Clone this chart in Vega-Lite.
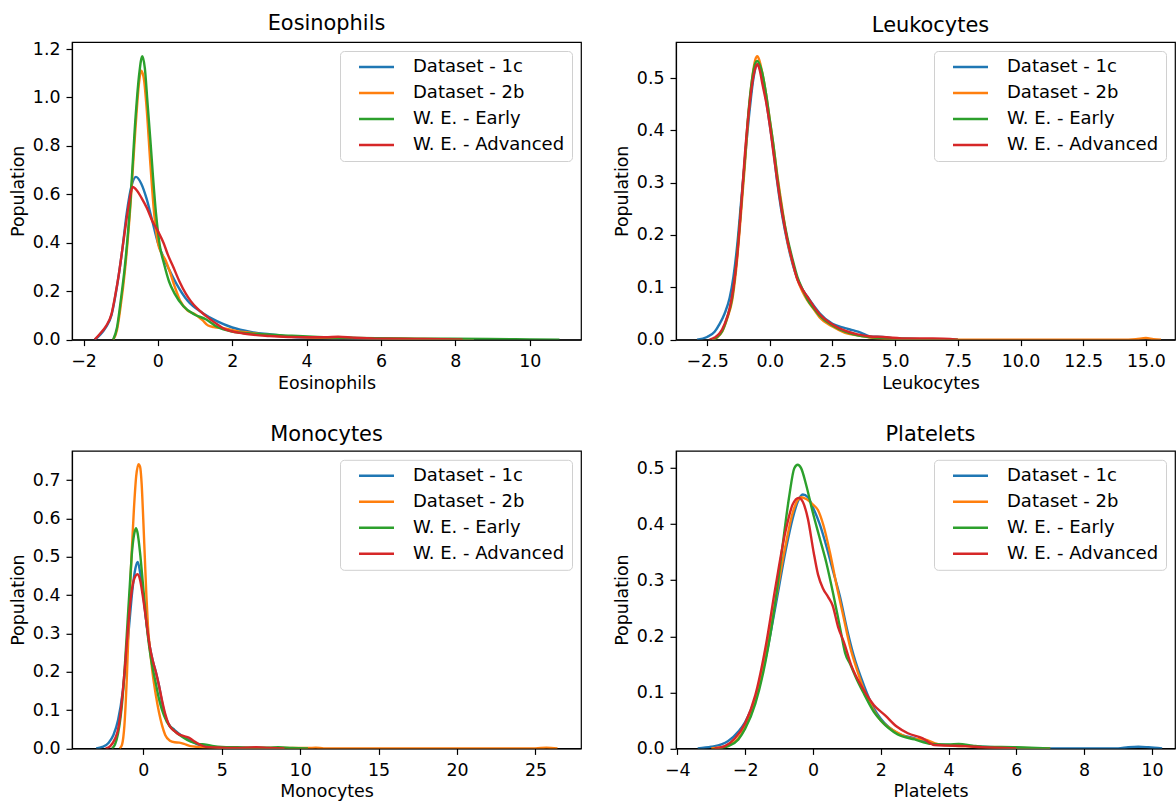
{
"$schema": "https://vega.github.io/schema/vega-lite/v6.json",
"padding": {"left": 8, "top": 12, "right": 0, "bottom": 0},
"columns": 2,
"spacing": {"row": 110.8, "column": 95},
"bounds": "flush",
"resolve": {"scale": {"x": "independent", "y": "independent", "color": "independent"}, "legend": {"color": "independent"}},
"datasets": {
"eos": [
{"s":"Dataset - 1c","x":-1.7,"y":0},{"s":"Dataset - 1c","x":-1.55,"y":0.02},{"s":"Dataset - 1c","x":-1.4,"y":0.05},{"s":"Dataset - 1c","x":-1.25,"y":0.1},{"s":"Dataset - 1c","x":-1.1,"y":0.22},{"s":"Dataset - 1c","x":-0.95,"y":0.38},{"s":"Dataset - 1c","x":-0.84,"y":0.52},{"s":"Dataset - 1c","x":-0.7,"y":0.64},{"s":"Dataset - 1c","x":-0.59,"y":0.672},{"s":"Dataset - 1c","x":-0.45,"y":0.645},{"s":"Dataset - 1c","x":-0.3,"y":0.58},{"s":"Dataset - 1c","x":-0.15,"y":0.49},{"s":"Dataset - 1c","x":0,"y":0.4},{"s":"Dataset - 1c","x":0.15,"y":0.34},{"s":"Dataset - 1c","x":0.3,"y":0.29},{"s":"Dataset - 1c","x":0.5,"y":0.23},{"s":"Dataset - 1c","x":0.8,"y":0.16},{"s":"Dataset - 1c","x":1.2,"y":0.11},{"s":"Dataset - 1c","x":1.6,"y":0.075},{"s":"Dataset - 1c","x":2.0,"y":0.05},{"s":"Dataset - 1c","x":2.5,"y":0.032},{"s":"Dataset - 1c","x":3.0,"y":0.022},{"s":"Dataset - 1c","x":3.5,"y":0.013},{"s":"Dataset - 1c","x":4.0,"y":0.008},{"s":"Dataset - 1c","x":5.0,"y":0.005},{"s":"Dataset - 1c","x":6.0,"y":0.003},{"s":"Dataset - 1c","x":7.0,"y":0.002},{"s":"Dataset - 1c","x":8.5,"y":0},
{"s":"Dataset - 2b","x":-1.2,"y":0},{"s":"Dataset - 2b","x":-1.1,"y":0.04},{"s":"Dataset - 2b","x":-1.0,"y":0.14},{"s":"Dataset - 2b","x":-0.89,"y":0.28},{"s":"Dataset - 2b","x":-0.74,"y":0.55},{"s":"Dataset - 2b","x":-0.6,"y":0.88},{"s":"Dataset - 2b","x":-0.5,"y":1.07},{"s":"Dataset - 2b","x":-0.45,"y":1.11},{"s":"Dataset - 2b","x":-0.38,"y":1.08},{"s":"Dataset - 2b","x":-0.3,"y":0.95},{"s":"Dataset - 2b","x":-0.2,"y":0.72},{"s":"Dataset - 2b","x":-0.1,"y":0.52},{"s":"Dataset - 2b","x":0,"y":0.4},{"s":"Dataset - 2b","x":0.1,"y":0.355},{"s":"Dataset - 2b","x":0.2,"y":0.33},{"s":"Dataset - 2b","x":0.3,"y":0.29},{"s":"Dataset - 2b","x":0.45,"y":0.22},{"s":"Dataset - 2b","x":0.6,"y":0.16},{"s":"Dataset - 2b","x":0.8,"y":0.12},{"s":"Dataset - 2b","x":1.0,"y":0.105},{"s":"Dataset - 2b","x":1.2,"y":0.08},{"s":"Dataset - 2b","x":1.35,"y":0.058},{"s":"Dataset - 2b","x":1.5,"y":0.052},{"s":"Dataset - 2b","x":1.8,"y":0.046},{"s":"Dataset - 2b","x":2.1,"y":0.036},{"s":"Dataset - 2b","x":2.5,"y":0.028},{"s":"Dataset - 2b","x":3.0,"y":0.018},{"s":"Dataset - 2b","x":4.0,"y":0.01},{"s":"Dataset - 2b","x":5.0,"y":0.006},{"s":"Dataset - 2b","x":6.0,"y":0.004},{"s":"Dataset - 2b","x":7.0,"y":0.003},{"s":"Dataset - 2b","x":8.0,"y":0.002},{"s":"Dataset - 2b","x":8.5,"y":0},
{"s":"W. E. - Early","x":-1.2,"y":0},{"s":"W. E. - Early","x":-1.1,"y":0.05},{"s":"W. E. - Early","x":-1.0,"y":0.16},{"s":"W. E. - Early","x":-0.89,"y":0.3},{"s":"W. E. - Early","x":-0.74,"y":0.57},{"s":"W. E. - Early","x":-0.6,"y":0.92},{"s":"W. E. - Early","x":-0.5,"y":1.1},{"s":"W. E. - Early","x":-0.42,"y":1.17},{"s":"W. E. - Early","x":-0.35,"y":1.12},{"s":"W. E. - Early","x":-0.28,"y":0.98},{"s":"W. E. - Early","x":-0.2,"y":0.82},{"s":"W. E. - Early","x":-0.13,"y":0.67},{"s":"W. E. - Early","x":-0.05,"y":0.52},{"s":"W. E. - Early","x":0.05,"y":0.39},{"s":"W. E. - Early","x":0.17,"y":0.31},{"s":"W. E. - Early","x":0.3,"y":0.24},{"s":"W. E. - Early","x":0.45,"y":0.19},{"s":"W. E. - Early","x":0.68,"y":0.139},{"s":"W. E. - Early","x":0.98,"y":0.104},{"s":"W. E. - Early","x":1.29,"y":0.084},{"s":"W. E. - Early","x":1.6,"y":0.052},{"s":"W. E. - Early","x":2.0,"y":0.033},{"s":"W. E. - Early","x":2.4,"y":0.026},{"s":"W. E. - Early","x":2.8,"y":0.022},{"s":"W. E. - Early","x":3.6,"y":0.016},{"s":"W. E. - Early","x":4.3,"y":0.011},{"s":"W. E. - Early","x":5.35,"y":0.007},{"s":"W. E. - Early","x":6.9,"y":0.004},{"s":"W. E. - Early","x":8.9,"y":0.003},{"s":"W. E. - Early","x":10.0,"y":0.001},{"s":"W. E. - Early","x":10.8,"y":0},
{"s":"W. E. - Advanced","x":-1.7,"y":0},{"s":"W. E. - Advanced","x":-1.55,"y":0.025},{"s":"W. E. - Advanced","x":-1.4,"y":0.055},{"s":"W. E. - Advanced","x":-1.25,"y":0.104},{"s":"W. E. - Advanced","x":-1.15,"y":0.18},{"s":"W. E. - Advanced","x":-1.05,"y":0.27},{"s":"W. E. - Advanced","x":-0.95,"y":0.38},{"s":"W. E. - Advanced","x":-0.84,"y":0.5},{"s":"W. E. - Advanced","x":-0.76,"y":0.58},{"s":"W. E. - Advanced","x":-0.68,"y":0.63},{"s":"W. E. - Advanced","x":-0.56,"y":0.615},{"s":"W. E. - Advanced","x":-0.44,"y":0.585},{"s":"W. E. - Advanced","x":-0.3,"y":0.545},{"s":"W. E. - Advanced","x":-0.15,"y":0.49},{"s":"W. E. - Advanced","x":0,"y":0.448},{"s":"W. E. - Advanced","x":0.15,"y":0.4},{"s":"W. E. - Advanced","x":0.27,"y":0.35},{"s":"W. E. - Advanced","x":0.4,"y":0.305},{"s":"W. E. - Advanced","x":0.58,"y":0.24},{"s":"W. E. - Advanced","x":0.75,"y":0.19},{"s":"W. E. - Advanced","x":0.88,"y":0.16},{"s":"W. E. - Advanced","x":1.05,"y":0.13},{"s":"W. E. - Advanced","x":1.29,"y":0.098},{"s":"W. E. - Advanced","x":1.55,"y":0.068},{"s":"W. E. - Advanced","x":1.8,"y":0.043},{"s":"W. E. - Advanced","x":2.3,"y":0.025},{"s":"W. E. - Advanced","x":3.0,"y":0.015},{"s":"W. E. - Advanced","x":4.0,"y":0.01},{"s":"W. E. - Advanced","x":4.5,"y":0.01},{"s":"W. E. - Advanced","x":4.85,"y":0.012},{"s":"W. E. - Advanced","x":5.25,"y":0.008},{"s":"W. E. - Advanced","x":5.86,"y":0.004},{"s":"W. E. - Advanced","x":6.9,"y":0.003},{"s":"W. E. - Advanced","x":8.0,"y":0.001},{"s":"W. E. - Advanced","x":8.2,"y":0}
],
"leu": [
{"s":"Dataset - 1c","x":-2.9,"y":0},{"s":"Dataset - 1c","x":-2.5,"y":0.005},{"s":"Dataset - 1c","x":-2.2,"y":0.015},{"s":"Dataset - 1c","x":-2.0,"y":0.03},{"s":"Dataset - 1c","x":-1.8,"y":0.05},{"s":"Dataset - 1c","x":-1.6,"y":0.08},{"s":"Dataset - 1c","x":-1.45,"y":0.12},{"s":"Dataset - 1c","x":-1.3,"y":0.18},{"s":"Dataset - 1c","x":-1.15,"y":0.26},{"s":"Dataset - 1c","x":-1.0,"y":0.34},{"s":"Dataset - 1c","x":-0.8,"y":0.44},{"s":"Dataset - 1c","x":-0.65,"y":0.5},{"s":"Dataset - 1c","x":-0.5,"y":0.525},{"s":"Dataset - 1c","x":-0.4,"y":0.52},{"s":"Dataset - 1c","x":-0.3,"y":0.5},{"s":"Dataset - 1c","x":-0.15,"y":0.46},{"s":"Dataset - 1c","x":0,"y":0.41},{"s":"Dataset - 1c","x":0.15,"y":0.36},{"s":"Dataset - 1c","x":0.3,"y":0.3},{"s":"Dataset - 1c","x":0.45,"y":0.25},{"s":"Dataset - 1c","x":0.6,"y":0.21},{"s":"Dataset - 1c","x":0.8,"y":0.165},{"s":"Dataset - 1c","x":1.0,"y":0.13},{"s":"Dataset - 1c","x":1.2,"y":0.105},{"s":"Dataset - 1c","x":1.5,"y":0.082},{"s":"Dataset - 1c","x":1.8,"y":0.062},{"s":"Dataset - 1c","x":2.0,"y":0.05},{"s":"Dataset - 1c","x":2.5,"y":0.03},{"s":"Dataset - 1c","x":3.0,"y":0.022},{"s":"Dataset - 1c","x":3.3,"y":0.018},{"s":"Dataset - 1c","x":3.6,"y":0.014},{"s":"Dataset - 1c","x":4.0,"y":0.006},{"s":"Dataset - 1c","x":4.5,"y":0.005},{"s":"Dataset - 1c","x":5.0,"y":0.002},{"s":"Dataset - 1c","x":6.0,"y":0.001},{"s":"Dataset - 1c","x":7.0,"y":0},
{"s":"Dataset - 2b","x":-2.3,"y":0},{"s":"Dataset - 2b","x":-2.1,"y":0.004},{"s":"Dataset - 2b","x":-1.9,"y":0.015},{"s":"Dataset - 2b","x":-1.7,"y":0.04},{"s":"Dataset - 2b","x":-1.5,"y":0.075},{"s":"Dataset - 2b","x":-1.35,"y":0.13},{"s":"Dataset - 2b","x":-1.2,"y":0.21},{"s":"Dataset - 2b","x":-1.0,"y":0.33},{"s":"Dataset - 2b","x":-0.85,"y":0.43},{"s":"Dataset - 2b","x":-0.7,"y":0.5},{"s":"Dataset - 2b","x":-0.58,"y":0.535},{"s":"Dataset - 2b","x":-0.5,"y":0.542},{"s":"Dataset - 2b","x":-0.42,"y":0.535},{"s":"Dataset - 2b","x":-0.3,"y":0.51},{"s":"Dataset - 2b","x":-0.15,"y":0.47},{"s":"Dataset - 2b","x":0,"y":0.42},{"s":"Dataset - 2b","x":0.15,"y":0.37},{"s":"Dataset - 2b","x":0.3,"y":0.315},{"s":"Dataset - 2b","x":0.5,"y":0.25},{"s":"Dataset - 2b","x":0.7,"y":0.19},{"s":"Dataset - 2b","x":0.9,"y":0.15},{"s":"Dataset - 2b","x":1.1,"y":0.115},{"s":"Dataset - 2b","x":1.3,"y":0.092},{"s":"Dataset - 2b","x":1.5,"y":0.075},{"s":"Dataset - 2b","x":1.8,"y":0.055},{"s":"Dataset - 2b","x":2.0,"y":0.042},{"s":"Dataset - 2b","x":2.5,"y":0.025},{"s":"Dataset - 2b","x":3.0,"y":0.013},{"s":"Dataset - 2b","x":3.5,"y":0.008},{"s":"Dataset - 2b","x":4.0,"y":0.004},{"s":"Dataset - 2b","x":5.0,"y":0.001},{"s":"Dataset - 2b","x":6.0,"y":0.001},{"s":"Dataset - 2b","x":7.0,"y":0},{"s":"Dataset - 2b","x":14.0,"y":0},{"s":"Dataset - 2b","x":14.6,"y":0.001},{"s":"Dataset - 2b","x":15.0,"y":0.003},{"s":"Dataset - 2b","x":15.3,"y":0.001},{"s":"Dataset - 2b","x":15.6,"y":0},
{"s":"W. E. - Early","x":-2.3,"y":0},{"s":"W. E. - Early","x":-2.1,"y":0.005},{"s":"W. E. - Early","x":-1.9,"y":0.016},{"s":"W. E. - Early","x":-1.7,"y":0.042},{"s":"W. E. - Early","x":-1.5,"y":0.08},{"s":"W. E. - Early","x":-1.35,"y":0.14},{"s":"W. E. - Early","x":-1.2,"y":0.22},{"s":"W. E. - Early","x":-1.0,"y":0.34},{"s":"W. E. - Early","x":-0.85,"y":0.435},{"s":"W. E. - Early","x":-0.7,"y":0.5},{"s":"W. E. - Early","x":-0.58,"y":0.528},{"s":"W. E. - Early","x":-0.5,"y":0.533},{"s":"W. E. - Early","x":-0.42,"y":0.528},{"s":"W. E. - Early","x":-0.3,"y":0.51},{"s":"W. E. - Early","x":-0.15,"y":0.47},{"s":"W. E. - Early","x":0,"y":0.42},{"s":"W. E. - Early","x":0.15,"y":0.37},{"s":"W. E. - Early","x":0.3,"y":0.31},{"s":"W. E. - Early","x":0.5,"y":0.245},{"s":"W. E. - Early","x":0.7,"y":0.195},{"s":"W. E. - Early","x":0.9,"y":0.155},{"s":"W. E. - Early","x":1.1,"y":0.12},{"s":"W. E. - Early","x":1.3,"y":0.097},{"s":"W. E. - Early","x":1.5,"y":0.077},{"s":"W. E. - Early","x":1.8,"y":0.057},{"s":"W. E. - Early","x":2.0,"y":0.045},{"s":"W. E. - Early","x":2.5,"y":0.027},{"s":"W. E. - Early","x":3.0,"y":0.015},{"s":"W. E. - Early","x":3.5,"y":0.008},{"s":"W. E. - Early","x":4.0,"y":0.005},{"s":"W. E. - Early","x":5.0,"y":0.002},{"s":"W. E. - Early","x":6.0,"y":0.001},{"s":"W. E. - Early","x":7.5,"y":0},
{"s":"W. E. - Advanced","x":-2.4,"y":0},{"s":"W. E. - Advanced","x":-2.2,"y":0.004},{"s":"W. E. - Advanced","x":-2.0,"y":0.012},{"s":"W. E. - Advanced","x":-1.8,"y":0.03},{"s":"W. E. - Advanced","x":-1.6,"y":0.06},{"s":"W. E. - Advanced","x":-1.45,"y":0.1},{"s":"W. E. - Advanced","x":-1.3,"y":0.16},{"s":"W. E. - Advanced","x":-1.15,"y":0.25},{"s":"W. E. - Advanced","x":-1.0,"y":0.35},{"s":"W. E. - Advanced","x":-0.85,"y":0.43},{"s":"W. E. - Advanced","x":-0.7,"y":0.49},{"s":"W. E. - Advanced","x":-0.6,"y":0.515},{"s":"W. E. - Advanced","x":-0.5,"y":0.527},{"s":"W. E. - Advanced","x":-0.4,"y":0.515},{"s":"W. E. - Advanced","x":-0.3,"y":0.49},{"s":"W. E. - Advanced","x":-0.15,"y":0.455},{"s":"W. E. - Advanced","x":0,"y":0.41},{"s":"W. E. - Advanced","x":0.15,"y":0.355},{"s":"W. E. - Advanced","x":0.3,"y":0.303},{"s":"W. E. - Advanced","x":0.5,"y":0.24},{"s":"W. E. - Advanced","x":0.7,"y":0.19},{"s":"W. E. - Advanced","x":0.9,"y":0.15},{"s":"W. E. - Advanced","x":1.1,"y":0.115},{"s":"W. E. - Advanced","x":1.3,"y":0.096},{"s":"W. E. - Advanced","x":1.5,"y":0.082},{"s":"W. E. - Advanced","x":1.8,"y":0.06},{"s":"W. E. - Advanced","x":2.0,"y":0.048},{"s":"W. E. - Advanced","x":2.5,"y":0.029},{"s":"W. E. - Advanced","x":3.0,"y":0.017},{"s":"W. E. - Advanced","x":3.5,"y":0.01},{"s":"W. E. - Advanced","x":4.0,"y":0.006},{"s":"W. E. - Advanced","x":4.5,"y":0.005},{"s":"W. E. - Advanced","x":5.5,"y":0.002},{"s":"W. E. - Advanced","x":6.5,"y":0.002},{"s":"W. E. - Advanced","x":7.5,"y":0}
],
"mon": [
{"s":"Dataset - 1c","x":-3.0,"y":0},{"s":"Dataset - 1c","x":-2.6,"y":0.004},{"s":"Dataset - 1c","x":-2.2,"y":0.015},{"s":"Dataset - 1c","x":-1.9,"y":0.035},{"s":"Dataset - 1c","x":-1.6,"y":0.075},{"s":"Dataset - 1c","x":-1.3,"y":0.15},{"s":"Dataset - 1c","x":-1.1,"y":0.23},{"s":"Dataset - 1c","x":-0.9,"y":0.32},{"s":"Dataset - 1c","x":-0.7,"y":0.41},{"s":"Dataset - 1c","x":-0.5,"y":0.47},{"s":"Dataset - 1c","x":-0.35,"y":0.487},{"s":"Dataset - 1c","x":-0.2,"y":0.46},{"s":"Dataset - 1c","x":0,"y":0.4},{"s":"Dataset - 1c","x":0.2,"y":0.33},{"s":"Dataset - 1c","x":0.4,"y":0.27},{"s":"Dataset - 1c","x":0.6,"y":0.23},{"s":"Dataset - 1c","x":0.8,"y":0.2},{"s":"Dataset - 1c","x":1.0,"y":0.165},{"s":"Dataset - 1c","x":1.2,"y":0.12},{"s":"Dataset - 1c","x":1.4,"y":0.085},{"s":"Dataset - 1c","x":1.6,"y":0.065},{"s":"Dataset - 1c","x":2.0,"y":0.048},{"s":"Dataset - 1c","x":2.5,"y":0.032},{"s":"Dataset - 1c","x":3.0,"y":0.02},{"s":"Dataset - 1c","x":3.5,"y":0.01},{"s":"Dataset - 1c","x":4.0,"y":0.005},{"s":"Dataset - 1c","x":5.0,"y":0.002},{"s":"Dataset - 1c","x":6.0,"y":0.001},{"s":"Dataset - 1c","x":7.0,"y":0.001},{"s":"Dataset - 1c","x":9.0,"y":0},
{"s":"Dataset - 2b","x":-1.5,"y":0},{"s":"Dataset - 2b","x":-1.35,"y":0.01},{"s":"Dataset - 2b","x":-1.2,"y":0.06},{"s":"Dataset - 2b","x":-1.05,"y":0.18},{"s":"Dataset - 2b","x":-0.9,"y":0.35},{"s":"Dataset - 2b","x":-0.75,"y":0.5},{"s":"Dataset - 2b","x":-0.6,"y":0.62},{"s":"Dataset - 2b","x":-0.45,"y":0.71},{"s":"Dataset - 2b","x":-0.3,"y":0.742},{"s":"Dataset - 2b","x":-0.2,"y":0.735},{"s":"Dataset - 2b","x":-0.1,"y":0.69},{"s":"Dataset - 2b","x":0,"y":0.6},{"s":"Dataset - 2b","x":0.1,"y":0.5},{"s":"Dataset - 2b","x":0.2,"y":0.4},{"s":"Dataset - 2b","x":0.3,"y":0.32},{"s":"Dataset - 2b","x":0.45,"y":0.25},{"s":"Dataset - 2b","x":0.6,"y":0.195},{"s":"Dataset - 2b","x":0.8,"y":0.14},{"s":"Dataset - 2b","x":1.0,"y":0.095},{"s":"Dataset - 2b","x":1.2,"y":0.06},{"s":"Dataset - 2b","x":1.4,"y":0.035},{"s":"Dataset - 2b","x":1.7,"y":0.02},{"s":"Dataset - 2b","x":2.0,"y":0.016},{"s":"Dataset - 2b","x":2.3,"y":0.015},{"s":"Dataset - 2b","x":2.6,"y":0.012},{"s":"Dataset - 2b","x":3.0,"y":0.006},{"s":"Dataset - 2b","x":3.5,"y":0.004},{"s":"Dataset - 2b","x":4.5,"y":0.002},{"s":"Dataset - 2b","x":6.0,"y":0.001},{"s":"Dataset - 2b","x":8.0,"y":0.001},{"s":"Dataset - 2b","x":10.5,"y":0.001},{"s":"Dataset - 2b","x":11.0,"y":0.002},{"s":"Dataset - 2b","x":11.5,"y":0},{"s":"Dataset - 2b","x":25.0,"y":0},{"s":"Dataset - 2b","x":25.7,"y":0.002},{"s":"Dataset - 2b","x":26.4,"y":0},
{"s":"W. E. - Early","x":-2.0,"y":0},{"s":"W. E. - Early","x":-1.8,"y":0.01},{"s":"W. E. - Early","x":-1.6,"y":0.04},{"s":"W. E. - Early","x":-1.45,"y":0.08},{"s":"W. E. - Early","x":-1.3,"y":0.14},{"s":"W. E. - Early","x":-1.15,"y":0.23},{"s":"W. E. - Early","x":-1.0,"y":0.33},{"s":"W. E. - Early","x":-0.85,"y":0.43},{"s":"W. E. - Early","x":-0.7,"y":0.52},{"s":"W. E. - Early","x":-0.55,"y":0.565},{"s":"W. E. - Early","x":-0.45,"y":0.575},{"s":"W. E. - Early","x":-0.35,"y":0.56},{"s":"W. E. - Early","x":-0.2,"y":0.51},{"s":"W. E. - Early","x":0,"y":0.42},{"s":"W. E. - Early","x":0.2,"y":0.33},{"s":"W. E. - Early","x":0.4,"y":0.26},{"s":"W. E. - Early","x":0.6,"y":0.21},{"s":"W. E. - Early","x":0.8,"y":0.17},{"s":"W. E. - Early","x":1.0,"y":0.13},{"s":"W. E. - Early","x":1.2,"y":0.1},{"s":"W. E. - Early","x":1.5,"y":0.07},{"s":"W. E. - Early","x":2.0,"y":0.045},{"s":"W. E. - Early","x":2.5,"y":0.03},{"s":"W. E. - Early","x":3.0,"y":0.018},{"s":"W. E. - Early","x":3.5,"y":0.012},{"s":"W. E. - Early","x":4.0,"y":0.01},{"s":"W. E. - Early","x":4.5,"y":0.006},{"s":"W. E. - Early","x":5.0,"y":0.004},{"s":"W. E. - Early","x":6.0,"y":0.003},{"s":"W. E. - Early","x":7.0,"y":0.002},{"s":"W. E. - Early","x":8.0,"y":0.002},{"s":"W. E. - Early","x":8.6,"y":0.003},{"s":"W. E. - Early","x":9.5,"y":0.001},{"s":"W. E. - Early","x":10.5,"y":0},
{"s":"W. E. - Advanced","x":-2.4,"y":0},{"s":"W. E. - Advanced","x":-2.1,"y":0.006},{"s":"W. E. - Advanced","x":-1.8,"y":0.025},{"s":"W. E. - Advanced","x":-1.6,"y":0.05},{"s":"W. E. - Advanced","x":-1.45,"y":0.09},{"s":"W. E. - Advanced","x":-1.3,"y":0.15},{"s":"W. E. - Advanced","x":-1.15,"y":0.22},{"s":"W. E. - Advanced","x":-1.0,"y":0.3},{"s":"W. E. - Advanced","x":-0.85,"y":0.37},{"s":"W. E. - Advanced","x":-0.7,"y":0.42},{"s":"W. E. - Advanced","x":-0.5,"y":0.45},{"s":"W. E. - Advanced","x":-0.35,"y":0.455},{"s":"W. E. - Advanced","x":-0.2,"y":0.44},{"s":"W. E. - Advanced","x":0,"y":0.39},{"s":"W. E. - Advanced","x":0.2,"y":0.33},{"s":"W. E. - Advanced","x":0.4,"y":0.27},{"s":"W. E. - Advanced","x":0.6,"y":0.23},{"s":"W. E. - Advanced","x":0.8,"y":0.2},{"s":"W. E. - Advanced","x":1.0,"y":0.165},{"s":"W. E. - Advanced","x":1.2,"y":0.125},{"s":"W. E. - Advanced","x":1.4,"y":0.09},{"s":"W. E. - Advanced","x":1.6,"y":0.065},{"s":"W. E. - Advanced","x":1.8,"y":0.052},{"s":"W. E. - Advanced","x":2.0,"y":0.045},{"s":"W. E. - Advanced","x":2.3,"y":0.036},{"s":"W. E. - Advanced","x":2.6,"y":0.032},{"s":"W. E. - Advanced","x":2.9,"y":0.028},{"s":"W. E. - Advanced","x":3.2,"y":0.02},{"s":"W. E. - Advanced","x":3.6,"y":0.01},{"s":"W. E. - Advanced","x":4.0,"y":0.004},{"s":"W. E. - Advanced","x":5.0,"y":0.002},{"s":"W. E. - Advanced","x":6.0,"y":0.001},{"s":"W. E. - Advanced","x":7.2,"y":0.003},{"s":"W. E. - Advanced","x":8.0,"y":0.001},{"s":"W. E. - Advanced","x":9.0,"y":0}
],
"pla": [
{"s":"Dataset - 1c","x":-3.4,"y":0},{"s":"Dataset - 1c","x":-3.0,"y":0.003},{"s":"Dataset - 1c","x":-2.7,"y":0.007},{"s":"Dataset - 1c","x":-2.5,"y":0.013},{"s":"Dataset - 1c","x":-2.2,"y":0.03},{"s":"Dataset - 1c","x":-2.0,"y":0.047},{"s":"Dataset - 1c","x":-1.7,"y":0.09},{"s":"Dataset - 1c","x":-1.4,"y":0.16},{"s":"Dataset - 1c","x":-1.1,"y":0.255},{"s":"Dataset - 1c","x":-0.8,"y":0.355},{"s":"Dataset - 1c","x":-0.6,"y":0.41},{"s":"Dataset - 1c","x":-0.45,"y":0.44},{"s":"Dataset - 1c","x":-0.3,"y":0.453},{"s":"Dataset - 1c","x":-0.15,"y":0.448},{"s":"Dataset - 1c","x":0,"y":0.43},{"s":"Dataset - 1c","x":0.2,"y":0.4},{"s":"Dataset - 1c","x":0.4,"y":0.36},{"s":"Dataset - 1c","x":0.6,"y":0.315},{"s":"Dataset - 1c","x":0.8,"y":0.27},{"s":"Dataset - 1c","x":1.0,"y":0.214},{"s":"Dataset - 1c","x":1.2,"y":0.166},{"s":"Dataset - 1c","x":1.5,"y":0.113},{"s":"Dataset - 1c","x":1.8,"y":0.071},{"s":"Dataset - 1c","x":2.0,"y":0.053},{"s":"Dataset - 1c","x":2.5,"y":0.027},{"s":"Dataset - 1c","x":3.0,"y":0.018},{"s":"Dataset - 1c","x":3.5,"y":0.009},{"s":"Dataset - 1c","x":4.0,"y":0.006},{"s":"Dataset - 1c","x":4.5,"y":0.005},{"s":"Dataset - 1c","x":5.0,"y":0.003},{"s":"Dataset - 1c","x":6.0,"y":0.001},{"s":"Dataset - 1c","x":7.0,"y":0},{"s":"Dataset - 1c","x":9.0,"y":0},{"s":"Dataset - 1c","x":9.3,"y":0.002},{"s":"Dataset - 1c","x":9.6,"y":0.003},{"s":"Dataset - 1c","x":9.9,"y":0.002},{"s":"Dataset - 1c","x":10.3,"y":0},
{"s":"Dataset - 2b","x":-3.0,"y":0},{"s":"Dataset - 2b","x":-2.7,"y":0.002},{"s":"Dataset - 2b","x":-2.5,"y":0.005},{"s":"Dataset - 2b","x":-2.2,"y":0.018},{"s":"Dataset - 2b","x":-2.0,"y":0.038},{"s":"Dataset - 2b","x":-1.7,"y":0.085},{"s":"Dataset - 2b","x":-1.4,"y":0.165},{"s":"Dataset - 2b","x":-1.1,"y":0.265},{"s":"Dataset - 2b","x":-0.8,"y":0.365},{"s":"Dataset - 2b","x":-0.6,"y":0.42},{"s":"Dataset - 2b","x":-0.45,"y":0.443},{"s":"Dataset - 2b","x":-0.35,"y":0.448},{"s":"Dataset - 2b","x":-0.2,"y":0.445},{"s":"Dataset - 2b","x":0,"y":0.435},{"s":"Dataset - 2b","x":0.15,"y":0.425},{"s":"Dataset - 2b","x":0.3,"y":0.4},{"s":"Dataset - 2b","x":0.5,"y":0.35},{"s":"Dataset - 2b","x":0.7,"y":0.29},{"s":"Dataset - 2b","x":0.9,"y":0.235},{"s":"Dataset - 2b","x":1.1,"y":0.18},{"s":"Dataset - 2b","x":1.3,"y":0.14},{"s":"Dataset - 2b","x":1.5,"y":0.105},{"s":"Dataset - 2b","x":1.8,"y":0.067},{"s":"Dataset - 2b","x":2.0,"y":0.05},{"s":"Dataset - 2b","x":2.5,"y":0.028},{"s":"Dataset - 2b","x":3.0,"y":0.017},{"s":"Dataset - 2b","x":3.3,"y":0.016},{"s":"Dataset - 2b","x":3.6,"y":0.009},{"s":"Dataset - 2b","x":4.0,"y":0.005},{"s":"Dataset - 2b","x":4.5,"y":0.004},{"s":"Dataset - 2b","x":5.0,"y":0.002},{"s":"Dataset - 2b","x":6.0,"y":0.001},{"s":"Dataset - 2b","x":7.0,"y":0},
{"s":"W. E. - Early","x":-2.8,"y":0},{"s":"W. E. - Early","x":-2.5,"y":0.004},{"s":"W. E. - Early","x":-2.2,"y":0.016},{"s":"W. E. - Early","x":-2.0,"y":0.035},{"s":"W. E. - Early","x":-1.7,"y":0.08},{"s":"W. E. - Early","x":-1.4,"y":0.155},{"s":"W. E. - Early","x":-1.1,"y":0.265},{"s":"W. E. - Early","x":-0.9,"y":0.36},{"s":"W. E. - Early","x":-0.7,"y":0.45},{"s":"W. E. - Early","x":-0.55,"y":0.5},{"s":"W. E. - Early","x":-0.45,"y":0.506},{"s":"W. E. - Early","x":-0.35,"y":0.5},{"s":"W. E. - Early","x":-0.2,"y":0.47},{"s":"W. E. - Early","x":0,"y":0.42},{"s":"W. E. - Early","x":0.2,"y":0.375},{"s":"W. E. - Early","x":0.4,"y":0.33},{"s":"W. E. - Early","x":0.6,"y":0.275},{"s":"W. E. - Early","x":0.8,"y":0.215},{"s":"W. E. - Early","x":0.95,"y":0.17},{"s":"W. E. - Early","x":1.1,"y":0.15},{"s":"W. E. - Early","x":1.3,"y":0.122},{"s":"W. E. - Early","x":1.5,"y":0.098},{"s":"W. E. - Early","x":1.8,"y":0.065},{"s":"W. E. - Early","x":2.0,"y":0.05},{"s":"W. E. - Early","x":2.5,"y":0.025},{"s":"W. E. - Early","x":3.0,"y":0.016},{"s":"W. E. - Early","x":3.5,"y":0.008},{"s":"W. E. - Early","x":4.0,"y":0.007},{"s":"W. E. - Early","x":4.3,"y":0.008},{"s":"W. E. - Early","x":4.7,"y":0.005},{"s":"W. E. - Early","x":5.0,"y":0.003},{"s":"W. E. - Early","x":6.0,"y":0.002},{"s":"W. E. - Early","x":7.0,"y":0},
{"s":"W. E. - Advanced","x":-2.9,"y":0},{"s":"W. E. - Advanced","x":-2.6,"y":0.004},{"s":"W. E. - Advanced","x":-2.3,"y":0.018},{"s":"W. E. - Advanced","x":-2.0,"y":0.045},{"s":"W. E. - Advanced","x":-1.7,"y":0.095},{"s":"W. E. - Advanced","x":-1.4,"y":0.18},{"s":"W. E. - Advanced","x":-1.1,"y":0.29},{"s":"W. E. - Advanced","x":-0.8,"y":0.39},{"s":"W. E. - Advanced","x":-0.6,"y":0.435},{"s":"W. E. - Advanced","x":-0.42,"y":0.447},{"s":"W. E. - Advanced","x":-0.3,"y":0.44},{"s":"W. E. - Advanced","x":-0.15,"y":0.41},{"s":"W. E. - Advanced","x":0.02,"y":0.35},{"s":"W. E. - Advanced","x":0.15,"y":0.31},{"s":"W. E. - Advanced","x":0.3,"y":0.285},{"s":"W. E. - Advanced","x":0.45,"y":0.27},{"s":"W. E. - Advanced","x":0.58,"y":0.255},{"s":"W. E. - Advanced","x":0.75,"y":0.215},{"s":"W. E. - Advanced","x":0.91,"y":0.19},{"s":"W. E. - Advanced","x":1.13,"y":0.148},{"s":"W. E. - Advanced","x":1.47,"y":0.107},{"s":"W. E. - Advanced","x":1.8,"y":0.077},{"s":"W. E. - Advanced","x":2.13,"y":0.059},{"s":"W. E. - Advanced","x":2.47,"y":0.039},{"s":"W. E. - Advanced","x":2.8,"y":0.027},{"s":"W. E. - Advanced","x":3.24,"y":0.018},{"s":"W. E. - Advanced","x":3.58,"y":0.006},{"s":"W. E. - Advanced","x":4.0,"y":0.005},{"s":"W. E. - Advanced","x":4.5,"y":0.004},{"s":"W. E. - Advanced","x":5.0,"y":0.002},{"s":"W. E. - Advanced","x":6.0,"y":0}
]
},
"concat": [
{
"data": {"name": "eos"},
"width": 509, "height": 297.6,
"title": {"text": "Eosinophils"},
"mark": {"type": "line", "clip": true, "interpolate": "monotone"},
"encoding": {
"x": {"field": "x", "type": "quantitative", "scale": {"domain": [-2.31, 11.38], "nice": false, "zero": false}, "axis": {"title": "Eosinophils", "values": [-2, 0, 2, 4, 6, 8, 10], "format": "d"}},
"y": {"field": "y", "type": "quantitative", "scale": {"domain": [0, 1.229], "nice": false}, "axis": {"title": "Population", "values": [0, 0.2, 0.4, 0.6, 0.8, 1.0, 1.2], "format": ".1f"}},
"color": {"field": "s", "type": "nominal", "scale": {"domain": ["Dataset - 1c", "Dataset - 2b", "W. E. - Early", "W. E. - Advanced"], "range": ["#1f77b4", "#ff7f0e", "#2ca02c", "#d62728"]}, "legend": {"title": null}}
}
},
{
"data": {"name": "leu"},
"width": 499, "height": 297.6,
"title": {"text": "Leukocytes", "dx": 5},
"mark": {"type": "line", "clip": true, "interpolate": "monotone"},
"encoding": {
"x": {"field": "x", "type": "quantitative", "scale": {"domain": [-3.74, 16.16], "nice": false, "zero": false}, "axis": {"title": "Leukocytes", "titleX": 254.5, "values": [-2.5, 0, 2.5, 5, 7.5, 10, 12.5, 15], "format": ".1f"}},
"y": {"field": "y", "type": "quantitative", "scale": {"domain": [0, 0.569], "nice": false}, "axis": {"title": "Population", "values": [0, 0.1, 0.2, 0.3, 0.4, 0.5], "format": ".1f"}},
"color": {"field": "s", "type": "nominal", "scale": {"domain": ["Dataset - 1c", "Dataset - 2b", "W. E. - Early", "W. E. - Advanced"], "range": ["#1f77b4", "#ff7f0e", "#2ca02c", "#d62728"]}, "legend": {"title": null}}
}
},
{
"data": {"name": "mon"},
"width": 509, "height": 297.6,
"title": {"text": "Monocytes"},
"mark": {"type": "line", "clip": true, "interpolate": "monotone"},
"encoding": {
"x": {"field": "x", "type": "quantitative", "scale": {"domain": [-4.54, 27.9], "nice": false, "zero": false}, "axis": {"title": "Monocytes", "values": [0, 5, 10, 15, 20, 25], "format": "d"}},
"y": {"field": "y", "type": "quantitative", "scale": {"domain": [0, 0.777], "nice": false}, "axis": {"title": "Population", "values": [0, 0.1, 0.2, 0.3, 0.4, 0.5, 0.6, 0.7], "format": ".1f"}},
"color": {"field": "s", "type": "nominal", "scale": {"domain": ["Dataset - 1c", "Dataset - 2b", "W. E. - Early", "W. E. - Advanced"], "range": ["#1f77b4", "#ff7f0e", "#2ca02c", "#d62728"]}, "legend": {"title": null}}
}
},
{
"data": {"name": "pla"},
"width": 499, "height": 297.6,
"title": {"text": "Platelets", "dx": 5},
"mark": {"type": "line", "clip": true, "interpolate": "monotone"},
"encoding": {
"x": {"field": "x", "type": "quantitative", "scale": {"domain": [-4.04, 10.68], "nice": false, "zero": false}, "axis": {"title": "Platelets", "titleX": 254.5, "values": [-4, -2, 0, 2, 4, 6, 8, 10], "format": "d"}},
"y": {"field": "y", "type": "quantitative", "scale": {"domain": [0, 0.531], "nice": false}, "axis": {"title": "Population", "values": [0, 0.1, 0.2, 0.3, 0.4, 0.5], "format": ".1f"}},
"color": {"field": "s", "type": "nominal", "scale": {"domain": ["Dataset - 1c", "Dataset - 2b", "W. E. - Early", "W. E. - Advanced"], "range": ["#1f77b4", "#ff7f0e", "#2ca02c", "#d62728"]}, "legend": {"title": null}}
}
}
],
"config": {
"font": "DejaVu Sans",
"background": "white",
"view": {"stroke": "#000000", "strokeWidth": 1.2},
"axis": {"grid": false, "domainColor": "#000000", "domainWidth": 1.2, "tickColor": "#000000", "tickWidth": 1.2, "tickSize": 6, "labelFont": "DejaVu Sans", "labelFontSize": 17.4, "labelColor": "#000000", "labelFlush": false, "labelOverlap": false, "labelPadding": 6, "titleFont": "DejaVu Sans", "titleFontSize": 17.4, "titleFontWeight": "normal", "titleColor": "#000000"},
"axisX": {"labelPadding": 7, "titlePadding": 4},
"axisY": {"titlePadding": 5},
"title": {"font": "DejaVu Sans", "fontSize": 20.9, "fontWeight": "normal", "color": "#000000", "offset": 6},
"legend": {"orient": "top-right", "offset": 9, "labelFont": "DejaVu Sans", "labelFontSize": 18, "labelColor": "#000000", "symbolType": "M-3.5,0H3.5", "symbolSize": 100, "symbolStrokeWidth": 2.4, "labelOffset": 27.5, "symbolOffset": 20.5, "rowPadding": 8, "padding": 7, "fillColor": "white", "strokeColor": "#d0d0d0", "cornerRadius": 4},
"line": {"strokeWidth": 2.4}
}
}
